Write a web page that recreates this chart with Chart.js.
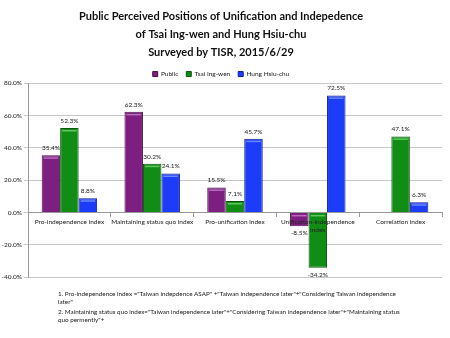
<!DOCTYPE html>
<html>
<head>
<meta charset="utf-8">
<script src="https://cdn.jsdelivr.net/npm/chart.js@4/dist/chart.umd.min.js"></script>
<style>
  html, body { margin: 0; padding: 0; background: #fff; }
  #wrap { position: relative; width: 450px; height: 338px; }
</style>
</head>
<body>
<div id="wrap"><canvas id="c" width="450" height="338"></canvas></div>
<script>
// Survey indices (percent)
const categories = [
  'Pro-independence index',
  'Maintaining status quo index',
  'Pro-unification index',
  ['Unification-independence', 'index'],
  'Correlation index'
];
const publicValues = [35.4, 62.3, 15.5, -8.5, null];
const tsaiValues   = [52.3, 30.2, 7.1, -34.2, 47.1];
const hungValues   = [8.8, 24.1, 45.7, 72.5, 6.3];
const yTicks = [-40, -20, 0, 20, 40, 60, 80];

const titleLines = [
  'Public Perceived Positions of Unification and Indepedence',
  'of Tsai Ing-wen and Hung Hsiu-chu',
  'Surveyed by TISR, 2015/6/29'
];
const footnotes = [
  '1. Pro-independence index ="Taiwan indepdence ASAP" +"Taiwan independence later"+"Considering Taiwan independence',
  'later"',
  '2. Maintaining status quo index="Taiwan independence later"+"Considering Taiwan independence later"+"Maintaining status',
  'quo permently"+'
];

const FONT = 'Lato, "Liberation Sans", sans-serif';

// keep the legend row compact underneath without tightening item spacing
const compactLegend = {
  id: 'compactLegend',
  beforeLayout(chart) {
    const lg = chart.legend;
    if (lg && !lg._compact) {
      const fit = lg.fit;
      lg.fit = function () { fit.call(this); this.height -= 4; };
      lg._compact = true;
    }
  }
};

// lighter band near the top of each bar, plus value labels and notes
const barDecor = {
  id: 'barDecor',
  afterDatasetsDraw(chart) {
    const ctx = chart.ctx;
    chart.data.datasets.forEach((ds, di) => {
      const meta = chart.getDatasetMeta(di);
      meta.data.forEach((bar, i) => {
        const v = ds.data[i];
        if (v === null || v === undefined) return;
        const top = Math.min(bar.y, bar.base);
        const half = bar.width / 2;
        ctx.save();
        ctx.fillStyle = ds.highlight;
        ctx.fillRect(bar.x - half + 2, top + 2, bar.width - 4, 1.5);
        ctx.restore();
        ctx.save();
        ctx.fillStyle = '#222';
        ctx.font = '6.5px ' + FONT;
        ctx.textAlign = 'center';
        const txt = v.toFixed(1) + '%';
        if (v >= 0) {
          ctx.textBaseline = 'bottom';
          ctx.fillText(txt, bar.x, bar.y - 4);
        } else {
          ctx.textBaseline = 'top';
          ctx.fillText(txt, bar.x, bar.y + 4);
        }
        ctx.restore();
      });
    });
  },
  afterDraw(chart) {
    const ctx = chart.ctx;
    ctx.save();
    ctx.fillStyle = '#1a1a1a';
    ctx.font = '6.3px ' + FONT;
    ctx.textBaseline = 'middle';
    const ys = [294, 302, 312, 320];
    footnotes.forEach((t, k) => ctx.fillText(t, 58, ys[k]));
    ctx.restore();
  }
};

new Chart(document.getElementById('c'), {
  type: 'bar',
  data: {
    labels: categories,
    datasets: [
      { label: 'Public', data: publicValues, backgroundColor: '#7d1f80', borderColor: '#4a0f4c', highlight: 'rgba(200,130,205,0.8)', borderWidth: 1 },
      { label: 'Tsai Ing-wen', data: tsaiValues, backgroundColor: '#118c14', borderColor: '#0a560b', highlight: 'rgba(110,210,110,0.85)', borderWidth: 1 },
      { label: 'Hung Hsiu-chu', data: hungValues, backgroundColor: '#1c3cfa', borderColor: '#0c1c96', highlight: 'rgba(120,150,255,0.85)', borderWidth: 1 }
    ]
  },
  options: {
    responsive: false,
    animation: false,
    devicePixelRatio: 1,
    layout: { padding: { left: 0, right: 8, top: 0, bottom: 61 } },
    datasets: { bar: { categoryPercentage: 0.67, barPercentage: 1.0 } },
    plugins: {
      title: {
        display: true,
        text: titleLines,
        color: '#111',
        font: { family: FONT, size: 11, weight: 'bold', lineHeight: 1.6 },
        padding: { top: 8, bottom: 2 }
      },
      legend: {
        display: true,
        position: 'top',
        labels: {
          boxWidth: 5, boxHeight: 5, padding: 8,
          color: '#222',
          font: { family: FONT, size: 6.5 }
        }
      },
      tooltip: { enabled: false }
    },
    scales: {
      x: {
        position: { y: 0 },
        offset: true,
        grid: { display: true, drawOnChartArea: false, offset: true, tickLength: 4, color: '#999' },
        border: { display: true, color: '#999' },
        ticks: {
          z: 1,
          autoSkip: false, maxRotation: 0, minRotation: 0, padding: 1,
          color: '#222', font: { family: FONT, size: 6.5, lineHeight: 1.3 }
        }
      },
      y: {
        min: -40, max: 80,
        afterBuildTicks(scale) { scale.ticks = yTicks.map(v => ({ value: v })); },
        afterFit(scale) { scale.width = 28; },
        grid: { color: '#c8c8c8', tickLength: 4 },
        border: { display: true, color: '#999' },
        ticks: {
          padding: 2,
          color: '#222',
          font: { family: FONT, size: 6.5 },
          callback: v => v.toFixed(1) + '%'
        }
      }
    }
  },
  plugins: [compactLegend, barDecor]
});
</script>
</body>
</html>
